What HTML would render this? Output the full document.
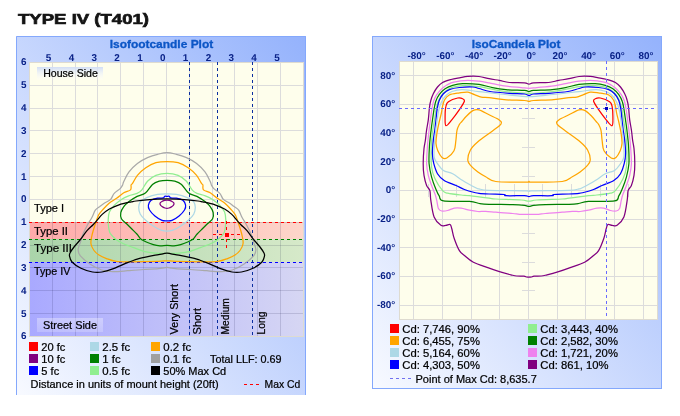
<!DOCTYPE html>
<html><head><meta charset="utf-8"><title>Type IV (T401)</title>
<style>html,body{margin:0;padding:0;background:#fff;width:680px;height:416px;overflow:hidden}svg{display:block;will-change:transform}text{font-family:"Liberation Sans",sans-serif}</style>
</head><body>
<svg width="680" height="416" viewBox="0 0 680 416"><defs>
<linearGradient id="panelG" x1="0" y1="1" x2="1" y2="0">
 <stop offset="0" stop-color="#f8faff"/>
 <stop offset="1" stop-color="#94b2fc"/>
</linearGradient>
<clipPath id="creamclip"><rect x="29" y="62" width="275" height="160"/></clipPath>
<clipPath id="bandclip"><rect x="29" y="222" width="275" height="115"/></clipPath>
<linearGradient id="t2" x1="0" y1="0" x2="1" y2="0">
 <stop offset="0" stop-color="#ffaaaa"/>
 <stop offset="1" stop-color="#fdd6ca"/>
</linearGradient>
<linearGradient id="t3" x1="0" y1="0" x2="1" y2="0">
 <stop offset="0" stop-color="#aad4aa"/>
 <stop offset="1" stop-color="#d6e9c9"/>
</linearGradient>
<linearGradient id="t4" x1="0" y1="0" x2="1" y2="0">
 <stop offset="0" stop-color="#a9a9ff"/>
 <stop offset="1" stop-color="#d6d6f3"/>
</linearGradient>
<linearGradient id="boxG" x1="0" y1="0" x2="0" y2="1">
 <stop offset="0" stop-color="#cfdcf6" stop-opacity="0.95"/>
 <stop offset="1" stop-color="#ffffff" stop-opacity="0.15"/>
</linearGradient>
<linearGradient id="boxG2" x1="0" y1="0" x2="0" y2="1">
 <stop offset="0" stop-color="#ffffff" stop-opacity="0.35"/>
 <stop offset="1" stop-color="#ffffff" stop-opacity="0.2"/>
</linearGradient>
</defs>
<text x="18" y="24" font-family="Liberation Sans" font-weight="bold" font-size="15" fill="#141414" stroke="#141414" stroke-width="0.7" textLength="131" lengthAdjust="spacingAndGlyphs">TYPE IV (T401)</text>
<rect x="16" y="36" width="290" height="359" fill="url(#panelG)"/>
<path d="M16.5,395 V36.5 H305.5 V395" fill="none" stroke="#84a8fc" stroke-width="1"/>
<rect x="372" y="36" width="290" height="353" fill="url(#panelG)"/>
<rect x="372.5" y="36.5" width="289" height="352" fill="none" stroke="#84a8fc" stroke-width="1"/>
<text x="109.7" y="47.7" font-family="Liberation Sans" font-weight="bold" font-size="11" fill="#0c56c6" stroke="#0c56c6" stroke-width="0.3" textLength="103.5" lengthAdjust="spacingAndGlyphs">Isofootcandle Plot</text>
<text x="471.7" y="47.6" font-family="Liberation Sans" font-weight="bold" font-size="11" fill="#0c56c6" stroke="#0c56c6" stroke-width="0.3" textLength="88.7" lengthAdjust="spacingAndGlyphs">IsoCandela Plot</text>
<rect x="29" y="62" width="275" height="275" fill="#fefeec"/>
<rect x="30" y="222" width="273" height="17" fill="url(#t2)"/>
<rect x="30" y="239" width="273" height="23" fill="url(#t3)"/>
<rect x="30" y="262" width="273" height="74" fill="url(#t4)"/>
<path d="M52.5,62V336M75.5,62V336M97.5,62V336M120.5,62V336M143.5,62V336M166.5,62V336M189.5,62V336M212.5,62V336M234.5,62V336M257.5,62V336M280.5,62V336M29,85.5H303M29,108.5H303M29,130.5H303M29,153.5H303M29,176.5H303M29,199.5H303M29,222.5H303M29,245.5H303M29,267.5H303M29,290.5H303M29,313.5H303" stroke="#dcdcdc" stroke-width="1" fill="none" clip-path="url(#creamclip)"/>
<path d="M52.5,62V336M75.5,62V336M97.5,62V336M120.5,62V336M143.5,62V336M166.5,62V336M189.5,62V336M212.5,62V336M234.5,62V336M257.5,62V336M280.5,62V336M29,85.5H303M29,108.5H303M29,130.5H303M29,153.5H303M29,176.5H303M29,199.5H303M29,222.5H303M29,245.5H303M29,267.5H303M29,290.5H303M29,313.5H303" stroke="#000030" stroke-opacity="0.13" stroke-width="1" fill="none" clip-path="url(#bandclip)"/>
<rect x="29.5" y="62.5" width="274" height="274" fill="none" stroke="#dedbd0" stroke-width="1"/>
<rect x="37" y="67" width="66" height="13" fill="url(#boxG)"/>
<text x="43.2" y="76.7" font-family="Liberation Sans" font-size="10.67" fill="#000" stroke="#000" stroke-width="0.22" textLength="54.6" lengthAdjust="spacingAndGlyphs">House Side</text>
<rect x="37" y="318" width="66" height="14" fill="url(#boxG2)"/>
<text x="43" y="328.8" font-family="Liberation Sans" font-size="10.67" fill="#000" stroke="#000" stroke-width="0.22" textLength="54" lengthAdjust="spacingAndGlyphs">Street Side</text>
<text x="34" y="212" font-family="Liberation Sans" font-size="11" fill="#000" stroke="#000" stroke-width="0.22" textLength="30.2" lengthAdjust="spacingAndGlyphs">Type I</text>
<text x="34" y="235" font-family="Liberation Sans" font-size="11" fill="#000" stroke="#000" stroke-width="0.22" textLength="34" lengthAdjust="spacingAndGlyphs">Type II</text>
<text x="34" y="251.8" font-family="Liberation Sans" font-size="11" fill="#000" stroke="#000" stroke-width="0.22" textLength="37.9" lengthAdjust="spacingAndGlyphs">Type III</text>
<text x="34" y="274.6" font-family="Liberation Sans" font-size="11" fill="#000" stroke="#000" stroke-width="0.22" textLength="36.4" lengthAdjust="spacingAndGlyphs">Type IV</text>
<path d="M29,222.5H303" stroke="#ff0000" stroke-width="1" stroke-dasharray="3,3" fill="none"/>
<path d="M29,239.5H303" stroke="#008000" stroke-width="1" stroke-dasharray="3,3" fill="none"/>
<path d="M29,262.5H303" stroke="#0000ff" stroke-width="1" stroke-dasharray="3,3" fill="none"/>
<path d="M189.5,62V336" stroke="#0a2ea0" stroke-width="1" stroke-dasharray="3,3" fill="none"/>
<path d="M217.5,62V336" stroke="#0a2ea0" stroke-width="1" stroke-dasharray="3,3" fill="none"/>
<path d="M252.5,62V336" stroke="#0a2ea0" stroke-width="1" stroke-dasharray="3,3" fill="none"/>
<text transform="translate(178,334.4) rotate(-90)" font-family="Liberation Sans" font-size="11" fill="#000" stroke="#000" stroke-width="0.22" textLength="50.3" lengthAdjust="spacingAndGlyphs">Very Short</text>
<text transform="translate(201,334.4) rotate(-90)" font-family="Liberation Sans" font-size="11" fill="#000" stroke="#000" stroke-width="0.22" textLength="26.5" lengthAdjust="spacingAndGlyphs">Short</text>
<text transform="translate(229.2,334.4) rotate(-90)" font-family="Liberation Sans" font-size="11" fill="#000" stroke="#000" stroke-width="0.22" textLength="36.2" lengthAdjust="spacingAndGlyphs">Medium</text>
<text transform="translate(265.2,334.4) rotate(-90)" font-family="Liberation Sans" font-size="11" fill="#000" stroke="#000" stroke-width="0.22" textLength="22.9" lengthAdjust="spacingAndGlyphs">Long</text>
<g fill="none" stroke-width="1.25" stroke-linejoin="round">
<path d="M167,152.6C163.9,152.6 160.8,153.5 157.6,154.3C154.3,155.1 150.9,156.1 147.5,157.6C144.1,159.1 140.5,161.1 137.4,163.5C134.3,165.9 131.2,169 129,171.9C126.8,174.8 125,179 123.9,181.2C122.8,183.4 123.2,183.8 122.6,185C122,186.2 121.6,187.2 120.2,188.6C118.8,190 115.8,191.6 114.2,193.4C112.6,195.2 112.2,197.8 110.6,199.4C109,201 106.4,201.8 104.6,203C102.8,204.2 101.3,205.4 99.8,206.6C98.2,207.8 96.6,208.4 95.3,210.2C94,212 93.2,215.1 91.9,217.5C90.6,219.9 89,222.1 87.6,224.7C86.2,227.3 84.6,230.3 83.4,233.1C82.2,235.9 81.5,238.8 80.6,241.6C79.7,244.4 78.1,247.3 78.1,249.7C78.1,252.1 78.6,253.8 80.6,256.2C82.6,258.6 86.8,262 90.3,264.3C93.8,266.6 97.8,268.8 101.6,270C105.4,271.2 108.6,271.5 112.9,271.6C117.2,271.7 122.4,271.1 127.5,270.7C132.6,270.3 138.8,269.8 143.7,269.5C148.5,269.2 153.5,269 156.6,268.8C159.7,268.6 160.3,268.4 162,268.2C163.7,268 165.3,267.4 167,267.4C168.7,267.4 170.3,268 172,268.2C173.7,268.4 174.3,268.6 177.4,268.8C180.5,269 185.5,269.2 190.3,269.5C195.2,269.8 201.4,270.3 206.5,270.7C211.6,271.1 216.8,271.7 221.1,271.6C225.4,271.5 228.6,271.2 232.4,270C236.2,268.8 240.2,266.6 243.7,264.3C247.2,262 251.4,258.6 253.4,256.2C255.4,253.8 255.9,252.1 255.9,249.7C255.9,247.3 254.3,244.4 253.4,241.6C252.5,238.8 251.8,235.9 250.6,233.1C249.4,230.3 247.8,227.3 246.4,224.7C245,222.1 243.4,219.9 242.1,217.5C240.8,215.1 240,212 238.7,210.2C237.4,208.4 235.8,207.8 234.2,206.6C232.6,205.4 231.2,204.2 229.4,203C227.6,201.8 225,201 223.4,199.4C221.8,197.8 221.4,195.2 219.8,193.4C218.2,191.6 215.2,190 213.8,188.6C212.4,187.2 212,186.2 211.4,185C210.8,183.8 211.2,183.4 210.1,181.2C209,179 207.2,174.8 205,171.9C202.8,169 199.7,165.9 196.6,163.5C193.5,161.1 189.9,159.1 186.5,157.6C183.1,156.1 179.7,155.1 176.4,154.3C173.2,153.5 170.1,152.6 167,152.6Z" stroke="#a9a9a9"/>
<path d="M167,161.5C163.3,161.5 159.4,161.7 155.9,162.7C152.4,163.7 148.9,165.6 145.8,167.7C142.7,169.8 139.7,172.6 137.4,175.3C135.2,178 133.4,182.1 132.3,183.7C131.2,185.3 131.4,184 131.1,185C130.8,186 131.7,188.5 130.5,189.8C129.3,191.1 126.1,191.4 123.8,192.8C121.5,194.2 119,196.5 116.6,198.2C114.2,199.9 111.6,201.2 109.4,203C107.2,204.8 105.2,207 103.4,209C101.6,211 99.9,212.6 98.6,215C97.3,217.4 96.4,220.8 95.5,223.5C94.6,226.2 93.8,228.6 93.1,231C92.4,233.4 91.8,235.8 91.4,238C91.1,240.2 90.6,241.9 91,244C91.4,246.1 92.7,248.7 94,250.5C95.3,252.3 96.9,253.7 99,255C101.1,256.4 103.6,257.5 106.5,258.6C109.4,259.7 112.2,260.9 116.2,261.4C120.2,261.9 123.7,261.8 130.7,261.8C137.7,261.8 152,261.6 158.1,261.4C164.2,261.2 164,260.8 167,260.8C170,260.8 169.8,261.2 175.9,261.4C182,261.6 196.3,261.8 203.3,261.8C210.3,261.8 213.8,261.9 217.8,261.4C221.8,260.9 224.6,259.7 227.5,258.6C230.4,257.5 232.9,256.4 235,255C237.1,253.7 238.7,252.3 240,250.5C241.3,248.7 242.6,246.1 243,244C243.4,241.9 242.9,240.2 242.6,238C242.2,235.8 241.6,233.4 240.9,231C240.2,228.6 239.4,226.2 238.5,223.5C237.6,220.8 236.7,217.4 235.4,215C234.1,212.6 232.4,211 230.6,209C228.8,207 226.8,204.8 224.6,203C222.4,201.2 219.8,199.9 217.4,198.2C215,196.5 212.5,194.2 210.2,192.8C207.9,191.4 204.7,191.1 203.5,189.8C202.3,188.5 203.2,186 202.9,185C202.6,184 202.8,185.3 201.7,183.7C200.6,182.1 198.8,178 196.6,175.3C194.3,172.6 191.3,169.8 188.2,167.7C185.1,165.6 181.6,163.7 178.1,162.7C174.6,161.7 170.7,161.5 167,161.5Z" stroke="#ffa500"/>
<path d="M167,173.3C163.3,173.3 159.2,174 155.9,175.3C152.7,176.6 149.8,178.8 147.5,181.2C145.2,183.6 143.6,187.8 141.9,189.8C140.2,191.8 139.3,192.4 137.1,193.4C134.9,194.4 131.3,194.8 128.7,195.8C126.1,196.8 123.8,197.8 121.4,199.4C119,201 116.2,203.3 114.2,205.4C112.2,207.5 110.4,209.6 109.4,212C108.4,214.4 108.3,217.2 108.2,219.9C108.1,222.6 108.4,226 108.8,228.3C109.2,230.6 109.2,231.8 110.4,233.7C111.6,235.5 114,237.8 116.1,239.4C118.2,241 120.6,242.3 123,243.5C125.4,244.7 127.2,245.2 130.7,246.5C134.1,247.8 139.6,250.2 143.7,251.3C147.8,252.4 151.3,252.8 155.2,253.1C159.1,253.4 163.1,253.3 167,253.3C170.9,253.3 174.9,253.4 178.8,253.1C182.7,252.8 186.2,252.4 190.3,251.3C194.4,250.2 199.9,247.8 203.3,246.5C206.8,245.2 208.6,244.7 211,243.5C213.4,242.3 215.8,241 217.9,239.4C220,237.8 222.4,235.5 223.6,233.7C224.8,231.8 224.8,230.6 225.2,228.3C225.6,226 225.9,222.6 225.8,219.9C225.7,217.2 225.6,214.4 224.6,212C223.6,209.6 221.8,207.5 219.8,205.4C217.8,203.3 215,201 212.6,199.4C210.2,197.8 207.9,196.8 205.3,195.8C202.7,194.8 199.1,194.4 196.9,193.4C194.7,192.4 193.8,191.8 192.1,189.8C190.4,187.8 188.8,183.6 186.5,181.2C184.2,178.8 181.3,176.6 178.1,175.3C174.8,174 170.7,173.3 167,173.3Z" stroke="#90ee90"/>
<path d="M167,180.3C164.4,180.3 161.7,180.5 159.3,181.2C156.9,181.9 154.8,182.5 152.5,184.5C150.2,186.5 148,191 145.4,193C142.8,195 139.9,194.9 137.1,196.4C134.3,197.9 130.9,200.1 128.7,201.8C126.5,203.5 125.1,204.8 123.8,206.6C122.5,208.4 121.2,210.6 120.8,212.6C120.4,214.6 120.5,216.9 121.4,218.7C122.3,220.5 124.7,221.9 126.3,223.5C127.9,225.1 129.3,226.5 131.1,228.3C132.9,230.1 135.3,232.4 137.1,234.3C138.9,236.2 139.1,238.1 141.8,239.8C144.5,241.5 150.3,243.6 153.3,244.6C156.3,245.6 157.7,245.7 160,245.8C162.3,245.9 164.7,245.4 167,245.4C169.3,245.4 171.7,245.9 174,245.8C176.3,245.7 177.7,245.6 180.7,244.6C183.7,243.6 189.5,241.5 192.2,239.8C194.9,238.1 195.1,236.2 196.9,234.3C198.7,232.4 201.1,230.1 202.9,228.3C204.7,226.5 206.1,225.1 207.7,223.5C209.3,221.9 211.7,220.5 212.6,218.7C213.5,216.9 213.6,214.6 213.2,212.6C212.8,210.6 211.5,208.4 210.2,206.6C208.9,204.8 207.5,203.5 205.3,201.8C203.1,200.1 199.7,197.9 196.9,196.4C194.1,194.9 191.2,195 188.6,193C186,191 183.8,186.5 181.5,184.5C179.2,182.5 177.1,181.9 174.7,181.2C172.3,180.5 169.6,180.3 167,180.3Z" stroke="#008000"/>
<path d="M167,193.8C163.9,193.8 161,193.7 157.6,194.3C154.2,194.9 149.7,196.3 146.8,197.6C143.9,198.9 141.7,200.3 140.3,201.9C139,203.5 138.7,205.2 138.7,207.3C138.7,209.4 139.1,212.1 140.3,214.3C141.5,216.5 143.3,218.2 145.7,220.3C148,222.4 151.8,225.2 154.4,226.8C157,228.5 158.9,229.5 161,230.2C163.1,230.9 165,231.2 167,231.2C169,231.2 170.9,230.9 173,230.2C175.1,229.5 177,228.5 179.6,226.8C182.2,225.2 186,222.4 188.3,220.3C190.7,218.2 192.5,216.5 193.7,214.3C194.9,212.1 195.3,209.4 195.3,207.3C195.3,205.2 195,203.5 193.7,201.9C192.3,200.3 190.1,198.9 187.2,197.6C184.3,196.3 179.8,194.9 176.4,194.3C173,193.7 170.1,193.8 167,193.8Z" stroke="#add8e6"/>
<path d="M167,196.3C166.2,196.3 165.2,196.1 164.6,196.4C164,196.7 164.6,197.6 163.4,197.9C162.2,198.2 159.7,197.8 157.6,198.2C155.5,198.6 152.6,199.2 151.1,200.3C149.6,201.5 148.7,203.5 148.4,205.1C148.1,206.7 148.4,208.2 149.5,210C150.6,211.8 152.8,214.2 154.9,215.9C157,217.6 160,219.5 162,220.3C164,221.1 165.3,220.8 167,220.8C168.7,220.8 170,221.1 172,220.3C174,219.5 177,217.6 179.1,215.9C181.2,214.2 183.4,211.8 184.5,210C185.6,208.2 185.9,206.7 185.6,205.1C185.3,203.5 184.4,201.5 182.9,200.3C181.4,199.2 178.5,198.6 176.4,198.2C174.3,197.8 171.8,198.2 170.6,197.9C169.4,197.6 170,196.7 169.4,196.4C168.8,196.1 167.8,196.3 167,196.3Z" stroke="#0000ff"/>
<path d="M167,200.1C166.2,200.1 165.3,200.1 164.5,200.3C163.7,200.5 163,201 162.3,201.3C161.7,201.7 161,202 160.6,202.4C160.2,202.8 160,203.3 160,203.8C160,204.3 160.3,204.9 160.7,205.4C161.1,205.9 161.9,206.5 162.6,206.9C163.3,207.3 164.3,207.8 165,208C165.7,208.2 166.3,208.3 167,208.3C167.7,208.3 168.3,208.2 169,208C169.7,207.8 170.7,207.3 171.4,206.9C172.1,206.5 172.9,205.9 173.3,205.4C173.7,204.9 174,204.3 174,203.8C174,203.3 173.8,202.8 173.4,202.4C173,202 172.3,201.7 171.7,201.3C171,201 170.3,200.5 169.5,200.3C168.7,200.1 167.8,200.1 167,200.1Z" stroke="#800080"/>
<path d="M167,198.9C163.9,198.9 161,198.9 157.6,199.1C154.2,199.3 150.4,199.6 146.8,199.9C143.2,200.2 138.6,200.7 136,201C133.4,201.3 133.9,201.3 131.1,201.9C128.3,202.5 122.6,203.6 119,204.8C115.4,206 112.2,207.4 109.4,209C106.6,210.6 104.2,212.6 102.2,214.4C100.2,216.2 98.9,218.2 97.4,219.9C95.9,221.6 94.8,222.9 93.1,224.7C91.4,226.5 89.2,228.1 87,230.7C84.8,233.2 82.2,237.3 80,240C77.8,242.7 75.7,244.8 74,247C72.3,249.2 70.8,251.5 70,253C69.2,254.5 69.2,254.5 69.5,256C69.8,257.5 70.1,259.9 72,262C73.9,264.1 77.6,266.6 81,268.3C84.4,270 89,271.4 92.5,272C96,272.6 98.8,272.5 102,272C105.2,271.5 107.8,270.8 112,269.2C116.2,267.6 123.3,264.4 127.5,262.7C131.7,261 134.2,260 137.2,259.1C140.2,258.2 142.6,257.8 145.6,257.1C148.6,256.5 152.3,255.8 155.2,255.2C158.1,254.6 160.9,254.2 162.9,253.8C164.9,253.4 165.6,253 167,253C168.4,253 169.1,253.4 171.1,253.8C173.1,254.2 175.9,254.6 178.8,255.2C181.7,255.8 185.4,256.5 188.4,257.1C191.4,257.8 193.8,258.2 196.8,259.1C199.8,260 202.3,261 206.5,262.7C210.7,264.4 217.8,267.6 222,269.2C226.2,270.8 228.8,271.5 232,272C235.2,272.5 238,272.6 241.5,272C245,271.4 249.6,270 253,268.3C256.4,266.6 260.1,264.1 262,262C263.9,259.9 264.2,257.5 264.5,256C264.8,254.5 264.8,254.5 264,253C263.2,251.5 261.7,249.2 260,247C258.3,244.8 256.2,242.7 254,240C251.8,237.3 249.2,233.2 247,230.7C244.8,228.1 242.6,226.5 240.9,224.7C239.2,222.9 238.1,221.6 236.6,219.9C235.1,218.2 233.8,216.2 231.8,214.4C229.8,212.6 227.4,210.6 224.6,209C221.8,207.4 218.6,206 215,204.8C211.4,203.6 205.7,202.5 202.9,201.9C200.1,201.3 200.6,201.3 198,201C195.4,200.7 190.8,200.2 187.2,199.9C183.6,199.6 179.8,199.3 176.4,199.1C173,198.9 170.1,198.9 167,198.9Z" stroke="#000000"/>
</g>
<path d="M213,234.5H240M226.5,221V248" stroke="#ff0000" stroke-width="1" stroke-dasharray="3,3" fill="none"/>
<rect x="225" y="233" width="4" height="4" fill="#ff0000"/>
<text x="48.5" y="61" text-anchor="middle" font-family="Liberation Sans" font-weight="bold" font-size="9.9" fill="#0a2288" text-rendering="geometricPrecision">5</text>
<text x="71.4" y="61" text-anchor="middle" font-family="Liberation Sans" font-weight="bold" font-size="9.9" fill="#0a2288" text-rendering="geometricPrecision">4</text>
<text x="94.2" y="61" text-anchor="middle" font-family="Liberation Sans" font-weight="bold" font-size="9.9" fill="#0a2288" text-rendering="geometricPrecision">3</text>
<text x="117" y="61" text-anchor="middle" font-family="Liberation Sans" font-weight="bold" font-size="9.9" fill="#0a2288" text-rendering="geometricPrecision">2</text>
<text x="139.9" y="61" text-anchor="middle" font-family="Liberation Sans" font-weight="bold" font-size="9.9" fill="#0a2288" text-rendering="geometricPrecision">1</text>
<text x="162.7" y="61" text-anchor="middle" font-family="Liberation Sans" font-weight="bold" font-size="9.9" fill="#0a2288" text-rendering="geometricPrecision">0</text>
<text x="185.5" y="61" text-anchor="middle" font-family="Liberation Sans" font-weight="bold" font-size="9.9" fill="#0a2288" text-rendering="geometricPrecision">1</text>
<text x="208.4" y="61" text-anchor="middle" font-family="Liberation Sans" font-weight="bold" font-size="9.9" fill="#0a2288" text-rendering="geometricPrecision">2</text>
<text x="231.2" y="61" text-anchor="middle" font-family="Liberation Sans" font-weight="bold" font-size="9.9" fill="#0a2288" text-rendering="geometricPrecision">3</text>
<text x="254" y="61" text-anchor="middle" font-family="Liberation Sans" font-weight="bold" font-size="9.9" fill="#0a2288" text-rendering="geometricPrecision">4</text>
<text x="276.9" y="61" text-anchor="middle" font-family="Liberation Sans" font-weight="bold" font-size="9.9" fill="#0a2288" text-rendering="geometricPrecision">5</text>
<text x="26.6" y="65.3" text-anchor="end" font-family="Liberation Sans" font-weight="bold" font-size="9.9" fill="#0a2288" text-rendering="geometricPrecision">6</text>
<text x="26.6" y="88.1" text-anchor="end" font-family="Liberation Sans" font-weight="bold" font-size="9.9" fill="#0a2288" text-rendering="geometricPrecision">5</text>
<text x="26.6" y="111" text-anchor="end" font-family="Liberation Sans" font-weight="bold" font-size="9.9" fill="#0a2288" text-rendering="geometricPrecision">4</text>
<text x="26.6" y="133.8" text-anchor="end" font-family="Liberation Sans" font-weight="bold" font-size="9.9" fill="#0a2288" text-rendering="geometricPrecision">3</text>
<text x="26.6" y="156.6" text-anchor="end" font-family="Liberation Sans" font-weight="bold" font-size="9.9" fill="#0a2288" text-rendering="geometricPrecision">2</text>
<text x="26.6" y="179.5" text-anchor="end" font-family="Liberation Sans" font-weight="bold" font-size="9.9" fill="#0a2288" text-rendering="geometricPrecision">1</text>
<text x="26.6" y="202.3" text-anchor="end" font-family="Liberation Sans" font-weight="bold" font-size="9.9" fill="#0a2288" text-rendering="geometricPrecision">0</text>
<text x="26.6" y="225.1" text-anchor="end" font-family="Liberation Sans" font-weight="bold" font-size="9.9" fill="#0a2288" text-rendering="geometricPrecision">1</text>
<text x="26.6" y="248" text-anchor="end" font-family="Liberation Sans" font-weight="bold" font-size="9.9" fill="#0a2288" text-rendering="geometricPrecision">2</text>
<text x="26.6" y="270.8" text-anchor="end" font-family="Liberation Sans" font-weight="bold" font-size="9.9" fill="#0a2288" text-rendering="geometricPrecision">3</text>
<text x="26.6" y="293.6" text-anchor="end" font-family="Liberation Sans" font-weight="bold" font-size="9.9" fill="#0a2288" text-rendering="geometricPrecision">4</text>
<text x="26.6" y="316.5" text-anchor="end" font-family="Liberation Sans" font-weight="bold" font-size="9.9" fill="#0a2288" text-rendering="geometricPrecision">5</text>
<text x="26.6" y="339.3" text-anchor="end" font-family="Liberation Sans" font-weight="bold" font-size="9.9" fill="#0a2288" text-rendering="geometricPrecision">6</text>
<rect x="29" y="342" width="9" height="9" fill="#ff0000"/>
<text x="41.3" y="350.7" font-family="Liberation Sans" font-size="10.67" fill="#000" stroke="#000" stroke-width="0.22" textLength="24.1" lengthAdjust="spacingAndGlyphs">20 fc</text>
<rect x="29" y="354" width="9" height="9" fill="#800080"/>
<text x="41.3" y="362.7" font-family="Liberation Sans" font-size="10.67" fill="#000" stroke="#000" stroke-width="0.22" textLength="24.1" lengthAdjust="spacingAndGlyphs">10 fc</text>
<rect x="29" y="366" width="9" height="9" fill="#0000ff"/>
<text x="41.3" y="374.7" font-family="Liberation Sans" font-size="10.67" fill="#000" stroke="#000" stroke-width="0.22" textLength="17.9" lengthAdjust="spacingAndGlyphs">5 fc</text>
<rect x="90" y="342" width="9" height="9" fill="#add8e6"/>
<text x="102.3" y="350.7" font-family="Liberation Sans" font-size="10.67" fill="#000" stroke="#000" stroke-width="0.22" textLength="27.9" lengthAdjust="spacingAndGlyphs">2.5 fc</text>
<rect x="90" y="354" width="9" height="9" fill="#008000"/>
<text x="102.3" y="362.7" font-family="Liberation Sans" font-size="10.67" fill="#000" stroke="#000" stroke-width="0.22" textLength="18.4" lengthAdjust="spacingAndGlyphs">1 fc</text>
<rect x="90" y="366" width="9" height="9" fill="#90ee90"/>
<text x="102.3" y="374.7" font-family="Liberation Sans" font-size="10.67" fill="#000" stroke="#000" stroke-width="0.22" textLength="27.9" lengthAdjust="spacingAndGlyphs">0.5 fc</text>
<rect x="151" y="342" width="9" height="9" fill="#ffa500"/>
<text x="163.3" y="350.7" font-family="Liberation Sans" font-size="10.67" fill="#000" stroke="#000" stroke-width="0.22" textLength="27.9" lengthAdjust="spacingAndGlyphs">0.2 fc</text>
<rect x="151" y="354" width="9" height="9" fill="#a0a0a0"/>
<text x="163.3" y="362.7" font-family="Liberation Sans" font-size="10.67" fill="#000" stroke="#000" stroke-width="0.22" textLength="27.9" lengthAdjust="spacingAndGlyphs">0.1 fc</text>
<rect x="151" y="366" width="9" height="9" fill="#000000"/>
<text x="163.3" y="374.7" font-family="Liberation Sans" font-size="10.67" fill="#000" stroke="#000" stroke-width="0.22" textLength="62.9" lengthAdjust="spacingAndGlyphs">50% Max Cd</text>
<text x="210.1" y="363" font-family="Liberation Sans" font-size="10.67" fill="#000" stroke="#000" stroke-width="0.22" textLength="71.4" lengthAdjust="spacingAndGlyphs">Total LLF: 0.69</text>
<text x="30.6" y="387.6" font-family="Liberation Sans" font-size="10.67" fill="#000" stroke="#000" stroke-width="0.22" textLength="188" lengthAdjust="spacingAndGlyphs">Distance in units of mount height (20ft)</text>
<path d="M244,384.5H259" stroke="#ff0000" stroke-width="1" stroke-dasharray="3,3" fill="none"/>
<text x="264.6" y="387.6" font-family="Liberation Sans" font-size="10.67" fill="#000" stroke="#000" stroke-width="0.22" textLength="35.7" lengthAdjust="spacingAndGlyphs">Max Cd</text>
<rect x="399" y="61" width="259" height="259" fill="#fefeec"/>
<path d="M413.5,61V319M399,305.5H657M442.5,61V319M399,276.5H657M471.5,61V319M399,247.5H657M499.5,61V319M399,219.5H657M528.5,61V319M399,190.5H657M557.5,61V319M399,161.5H657M585.5,61V319M399,133.5H657M614.5,61V319M399,104.5H657M643.5,61V319M399,75.5H657" stroke="#dcdcdc" stroke-width="1" fill="none"/>
<path d="M428.5,184V197M522,290.5H535M456.5,184V197M522,262.5H535M485.5,184V197M522,233.5H535M514.5,184V197M522,204.5H535M542.5,184V197M522,176.5H535M571.5,184V197M522,147.5H535M600.5,184V197M522,118.5H535M628.5,184V197M522,90.5H535" stroke="#dcdcdc" stroke-width="1" fill="none"/>
<rect x="399.5" y="61.5" width="258" height="258" fill="none" stroke="#dedbd0" stroke-width="1"/>
<g fill="none" stroke-width="1.25" stroke-linejoin="round">
<path d="M529,84.2C527.5,84.2 527.7,83.2 524.4,82.9C521.1,82.6 513.5,82.9 509.3,82.5C505.1,82.1 502.6,81 499.2,80.4C495.8,79.8 492.5,79.4 489.1,78.7C485.7,78 482.6,76.9 479,76.5C475.4,76.1 471.1,76.2 467.8,76.4C464.5,76.6 462.2,77.3 459.4,77.8C456.6,78.3 453.8,78.7 451,79.5C448.2,80.3 444.9,81.2 442.6,82.5C440.4,83.8 439.1,85.1 437.5,87C435.9,88.9 434.4,91.5 433.3,93.8C432.2,96 431.5,98.1 430.8,100.5C430.1,102.9 429.8,104.8 429.4,108C429,111.2 428.8,116.1 428.3,119.8C427.8,123.5 427.1,126.6 426.6,130C426.1,133.4 425.8,137 425.4,140.1C425,143.2 424.4,144.6 424,148.5C423.6,152.4 423.2,159.2 423.2,163.7C423.2,168.2 423.4,171.8 424,175.4C424.6,179 425.6,183 426.6,185.5C427.6,188 429.2,188.2 429.9,190.6C430.6,193 430.1,195.7 430.8,200.1C431.5,204.5 432.4,212.7 434.1,216.9C435.8,221.1 438.9,223.9 440.9,225.3C442.9,226.7 444.4,225.4 445.9,225.3C447.4,225.2 449.1,223.9 450.1,224.5C451.1,225.1 451.1,226.3 451.8,228.7C452.5,231.1 453,235.2 454.3,238.8C455.6,242.5 457.6,247.8 459.4,250.6C461.1,253.4 462.5,253.9 464.8,255.8C467.1,257.8 469.6,260.3 473.4,262.3C477.2,264.3 483.5,266.1 487.8,267.6C492.1,269.2 495.5,270.4 499.4,271.6C503.2,272.8 508,274.1 510.9,274.8C513.8,275.5 514.5,275.8 516.7,276C518.9,276.2 522.2,276 523.9,276.2C525.6,276.4 525.9,276.9 526.7,277C527.6,277.1 528.2,277 529,277C529.8,277 530.4,277.1 531.3,277C532.1,276.9 532.4,276.4 534.1,276.2C535.8,276 539.1,276.2 541.3,276C543.5,275.8 544.2,275.5 547.1,274.8C550,274.1 554.8,272.8 558.6,271.6C562.5,270.4 565.9,269.2 570.2,267.6C574.5,266.1 580.8,264.3 584.6,262.3C588.4,260.3 590.9,257.8 593.2,255.8C595.5,253.9 596.9,253.4 598.6,250.6C600.4,247.8 602.4,242.5 603.7,238.8C605,235.2 605.5,231.1 606.2,228.7C606.9,226.3 606.9,225.1 607.9,224.5C608.9,223.9 610.6,225.2 612.1,225.3C613.6,225.4 615.1,226.7 617.1,225.3C619.1,223.9 622.2,221.1 623.9,216.9C625.6,212.7 626.5,204.5 627.2,200.1C627.9,195.7 627.4,193 628.1,190.6C628.8,188.2 630.4,188 631.4,185.5C632.4,183 633.4,179 634,175.4C634.6,171.8 634.8,168.2 634.8,163.7C634.8,159.2 634.4,152.4 634,148.5C633.6,144.6 633,143.2 632.6,140.1C632.2,137 631.9,133.4 631.4,130C630.9,126.6 630.2,123.5 629.7,119.8C629.2,116.1 629,111.2 628.6,108C628.2,104.8 627.9,102.9 627.2,100.5C626.6,98.1 625.8,96 624.7,93.8C623.6,91.5 622,88.9 620.5,87C619,85.1 617.6,83.8 615.4,82.5C613.1,81.2 609.8,80.3 607,79.5C604.2,78.7 601.4,78.3 598.6,77.8C595.8,77.3 593.5,76.6 590.2,76.4C586.9,76.2 582.5,76.1 579,76.5C575.5,76.9 572.3,78 568.9,78.7C565.5,79.4 562.2,79.8 558.8,80.4C555.4,81 552.9,82.1 548.7,82.5C544.5,82.9 536.9,82.6 533.6,82.9C530.3,83.2 530.5,84.2 529,84.2Z" stroke="#800080"/>
<path d="M529,88.3C526.4,88.3 525.2,88 521.1,87.6C517,87.2 509.5,86.7 504.2,85.9C498.9,85.1 493.3,83.7 489.1,82.9C484.9,82.1 482.6,81.6 479,81.2C475.4,80.8 471.1,80.3 467.8,80.3C464.5,80.3 462.2,80.7 459.4,81.1C456.6,81.5 453.8,81.7 451,82.8C448.2,83.9 445,85.9 442.6,87.9C440.2,89.9 438.2,92.5 436.7,94.6C435.2,96.7 434.6,98.3 433.8,100.5C433,102.7 432.7,104.8 432.1,108C431.5,111.2 430.9,116.1 430.4,119.8C429.9,123.5 429.6,125.5 429.1,130C428.6,134.5 427.8,141.2 427.4,146.8C427,152.4 426.5,158.9 426.6,163.7C426.8,168.5 427.5,171.8 428.3,175.4C429.1,179 430.5,182.4 431.6,185.5C432.7,188.6 434.1,191.6 435,194C435.9,196.4 436.1,197.7 436.7,200.1C437.3,202.5 437.6,206.7 438.4,208.5C439.2,210.3 440.2,210.7 441.7,211C443.2,211.3 445.5,211 447.6,210.5C449.7,210 452.1,208.6 454.3,208.2C456.6,207.8 458.6,207.9 461.1,208.2C463.6,208.5 466.7,209.6 469.5,210.2C472.3,210.8 475.2,211.3 477.9,211.5C480.6,211.7 482.7,211.2 485.7,211.3C488.7,211.4 491.3,211.8 495.8,212.2C500.3,212.6 508.8,213.2 512.7,213.5C516.6,213.8 516.7,214.2 519.4,214.3C522.1,214.4 525.8,214.3 529,214.3C532.2,214.3 535.9,214.4 538.6,214.3C541.3,214.2 541.4,213.8 545.3,213.5C549.2,213.2 557.7,212.6 562.2,212.2C566.7,211.8 569.3,211.4 572.3,211.3C575.3,211.2 577.4,211.7 580.1,211.5C582.8,211.3 585.7,210.8 588.5,210.2C591.3,209.6 594.4,208.5 596.9,208.2C599.4,207.9 601.5,207.8 603.7,208.2C606,208.6 608.3,210 610.4,210.5C612.5,211 614.8,211.3 616.3,211C617.8,210.7 618.8,210.3 619.6,208.5C620.4,206.7 620.7,202.5 621.3,200.1C621.9,197.7 622.1,196.4 623,194C623.9,191.6 625.3,188.6 626.4,185.5C627.5,182.4 628.9,179 629.7,175.4C630.5,171.8 631.2,168.5 631.4,163.7C631.5,158.9 631,152.4 630.6,146.8C630.2,141.2 629.4,134.5 628.9,130C628.4,125.5 628.1,123.5 627.6,119.8C627.1,116.1 626.5,111.2 625.9,108C625.3,104.8 625,102.7 624.2,100.5C623.4,98.3 622.8,96.7 621.3,94.6C619.8,92.5 617.8,89.9 615.4,87.9C613,85.9 609.8,83.9 607,82.8C604.2,81.7 601.4,81.5 598.6,81.1C595.8,80.7 593.5,80.3 590.2,80.3C586.9,80.3 582.5,80.8 579,81.2C575.5,81.6 573.1,82.1 568.9,82.9C564.7,83.7 559.1,85.1 553.8,85.9C548.5,86.7 541,87.2 536.9,87.6C532.8,88 531.6,88.3 529,88.3Z" stroke="#ee82ee"/>
<path d="M529,91.6C527.5,91.6 528.2,90.7 524.4,90.4C520.5,90.1 511.2,90.1 505.9,89.6C500.6,89.1 497,88.5 492.5,87.6C488,86.7 484,85.1 479,84.4C474,83.8 467.1,83.5 462.7,83.7C458.3,83.9 455.6,84.6 452.7,85.4C449.8,86.2 447.4,87.2 445.1,88.7C442.9,90.2 440.8,92.5 439.2,94.6C437.6,96.7 436.6,98.9 435.8,101.3C435,103.7 434.7,105.8 434.1,108.9C433.6,112 433,116.3 432.5,119.8C432,123.3 431.6,125.5 431.1,130C430.6,134.5 429.7,141.2 429.4,146.8C429.1,152.4 428.7,158.6 429.1,163.7C429.5,168.8 430.5,172.9 431.6,177.1C432.7,181.3 434.5,185.8 435.8,188.9C437.1,192 437.9,193.9 439.2,195.9C440.5,197.9 438.3,200 443.4,200.9C448.4,201.8 463.5,201 469.5,201.4C475.5,201.8 476.4,203 479.6,203.5C482.9,204 483.5,204.1 489,204.3C494.5,204.5 506.8,204.4 512.7,204.6C518.6,204.8 521.7,205.1 524.4,205.4C527.1,205.7 527.5,206.4 529,206.4C530.5,206.4 530.9,205.7 533.6,205.4C536.3,205.1 539.4,204.8 545.3,204.6C551.2,204.4 563.5,204.5 569,204.3C574.5,204.1 575.1,204 578.4,203.5C581.6,203 582.5,201.8 588.5,201.4C594.5,201 609.6,201.8 614.6,200.9C619.6,200 617.5,197.9 618.8,195.9C620.1,193.9 620.9,192 622.2,188.9C623.5,185.8 625.3,181.3 626.4,177.1C627.5,172.9 628.5,168.8 628.9,163.7C629.3,158.6 628.9,152.4 628.6,146.8C628.3,141.2 627.4,134.5 626.9,130C626.4,125.5 626,123.3 625.5,119.8C625,116.3 624.4,112 623.9,108.9C623.4,105.8 623.1,103.7 622.2,101.3C621.4,98.9 620.3,96.7 618.8,94.6C617.2,92.5 615.1,90.2 612.9,88.7C610.6,87.2 608.2,86.2 605.3,85.4C602.4,84.6 599.7,83.9 595.3,83.7C590.9,83.5 584,83.8 579,84.4C574,85.1 570,86.7 565.5,87.6C561,88.5 557.4,89.1 552.1,89.6C546.8,90.1 537.5,90.1 533.6,90.4C529.8,90.7 530.5,91.6 529,91.6Z" stroke="#008000"/>
<path d="M529,93.3C521,93.3 513.3,92.6 505,91.5C496.7,90.4 486.1,87.6 479,86.6C471.9,85.6 467,85.5 462.7,85.6C458.4,85.7 455.7,86.4 453,87.2C450.3,88 448.5,89 446.5,90.5C444.5,92 442.4,94 441,96C439.6,98 438.6,100.2 437.8,102.5C437,104.8 436.6,107.1 436,110C435.4,112.9 435,116.7 434.5,120C434,123.3 433.4,125.5 432.8,130C432.2,134.5 431.4,140.8 431.2,147C431,153.2 431,161.7 431.6,167C432.2,172.3 433.2,174.9 435,178.8C436.8,182.7 440.5,188.2 442.6,190.6C444.7,193 444.5,192.4 447.6,193.1C450.7,193.8 457.5,194.6 461.1,195C464.8,195.4 464.9,195.1 469.5,195.6C474.1,196.1 484.6,197.5 489,198.1C493.4,198.7 490.4,198.7 495.8,199C501.2,199.3 515.6,199.6 521.1,200C526.6,200.4 526.4,201.2 529,201.2C531.6,201.2 531.4,200.4 536.9,200C542.4,199.6 556.9,199.3 562.2,199C567.6,198.7 564.6,198.7 569,198.1C573.4,197.5 583.9,196.1 588.5,195.6C593.1,195.1 593.2,195.4 596.9,195C600.5,194.6 607.3,193.8 610.4,193.1C613.5,192.4 613.3,193 615.4,190.6C617.5,188.2 621.2,182.7 623,178.8C624.8,174.9 625.8,172.3 626.4,167C627,161.7 627,153.2 626.8,147C626.6,140.8 625.8,134.5 625.2,130C624.7,125.5 624,123.3 623.5,120C623,116.7 622.5,112.9 622,110C621.5,107.1 621,104.8 620.2,102.5C619.4,100.2 618.5,98 617,96C615.5,94 613.5,92 611.5,90.5C609.5,89 607.7,88 605,87.2C602.3,86.4 599.6,85.7 595.3,85.6C591,85.5 586,85.6 579,86.6C572,87.6 561.3,90.4 553,91.5C544.7,92.6 537,93.3 529,93.3Z" stroke="#90ee90"/>
<path d="M529,95.5C527.5,95.5 527.7,94.4 524.4,94C521.1,93.6 515,93.7 509.3,93.3C503.6,92.9 495.1,92.3 490,91.5C484.9,90.7 481.9,89.2 479,88.5C476.1,87.8 476.1,87.2 472.8,87C469.5,86.8 463.3,87.1 459.4,87.5C455.5,87.9 452,88.5 449.3,89.6C446.6,90.6 445.1,92 443.4,93.8C441.7,95.6 440.2,98 439.2,100.5C438.2,103 437.8,105.4 437.2,108.9C436.6,112.4 436.2,118 435.8,121.5C435.4,125 435.2,126.9 434.8,130C434.4,133.1 433.7,136.2 433.3,140.1C432.9,144 432.3,149.7 432.4,153.6C432.5,157.5 432.9,160.3 433.8,163.7C434.7,167 435.8,170.9 437.5,173.7C439.2,176.5 441.1,178.5 444.2,180.5C447.3,182.5 452.6,184 456,185.5C459.4,187 461.3,188.3 464.4,189.5C467.5,190.7 472.1,191.9 474.5,192.5C476.9,193.1 476.6,193.1 479,193.3C481.4,193.6 484.8,193.8 489,194C493.2,194.2 501.4,194.2 504.2,194.5C507,194.8 502.6,195.5 506,195.7C509.4,195.9 520.6,195.6 524.4,195.7C528.2,195.8 527.5,196.5 529,196.5C530.5,196.5 529.8,195.8 533.6,195.7C537.4,195.6 548.6,195.9 552,195.7C555.4,195.5 551,194.8 553.8,194.5C556.6,194.2 564.8,194.2 569,194C573.2,193.8 576.6,193.6 579,193.3C581.4,193.1 581.1,193.1 583.5,192.5C585.9,191.9 590.5,190.7 593.6,189.5C596.7,188.3 598.6,187 602,185.5C605.4,184 610.7,182.5 613.8,180.5C616.9,178.5 618.8,176.5 620.5,173.7C622.2,170.9 623.4,167 624.2,163.7C625.1,160.3 625.5,157.5 625.6,153.6C625.7,149.7 625.1,144 624.7,140.1C624.3,136.2 623.6,133.1 623.2,130C622.8,126.9 622.6,125 622.2,121.5C621.8,118 621.4,112.4 620.8,108.9C620.2,105.4 619.8,103 618.8,100.5C617.8,98 616.3,95.6 614.6,93.8C612.9,92 611.4,90.6 608.7,89.6C606,88.5 602.5,87.9 598.6,87.5C594.7,87.1 588.5,86.8 585.2,87C581.9,87.2 581.9,87.8 579,88.5C576.1,89.2 573,90.7 568,91.5C563,92.3 554.4,92.9 548.7,93.3C543,93.7 536.9,93.6 533.6,94C530.3,94.4 530.5,95.5 529,95.5Z" stroke="#0000ff"/>
<path d="M529,96.7C521,96.7 513.3,95.3 505,94.5C496.7,93.7 486.2,92.4 479,91.6C471.8,90.8 466.5,89.5 462,89.5C457.5,89.5 454.7,90.5 452,91.5C449.3,92.5 447.8,93.8 446,95.5C444.2,97.2 442.7,99.6 441.5,102C440.3,104.4 439.6,106.8 438.8,110C438.1,113.2 437.5,117.7 437,121C436.5,124.3 436.2,126.3 435.8,130C435.4,133.7 434.8,138.5 434.5,143C434.2,147.5 433.6,153.5 434.1,156.9C434.6,160.3 435.9,161.4 437.5,163.7C439.1,165.9 440.9,168.7 443.4,170.4C445.9,172.1 449.5,172 452.7,173.7C455.9,175.4 458.8,178.1 462.7,180.5C466.6,182.9 473.5,186.6 476.2,188C478.9,189.4 476.9,188.5 479,188.9C481.1,189.3 481.2,190 489.1,190.3C497,190.6 519.5,190.6 526.1,190.8C532.8,191 528,191.5 529,191.5C530,191.5 525.2,191 531.9,190.8C538.5,190.6 561,190.6 568.9,190.3C576.8,190 576.9,189.3 579,188.9C581.1,188.5 579.1,189.4 581.8,188C584.5,186.6 591.4,182.9 595.3,180.5C599.2,178.1 602.1,175.4 605.3,173.7C608.5,172 612.1,172.1 614.6,170.4C617.1,168.7 619,165.9 620.5,163.7C622,161.4 623.4,160.3 623.9,156.9C624.4,153.5 623.8,147.5 623.5,143C623.2,138.5 622.6,133.7 622.2,130C621.8,126.3 621.5,124.3 621,121C620.5,117.7 620,113.2 619.2,110C618.5,106.8 617.7,104.4 616.5,102C615.3,99.6 613.8,97.2 612,95.5C610.2,93.8 608.7,92.5 606,91.5C603.3,90.5 600.5,89.5 596,89.5C591.5,89.5 586.2,90.8 579,91.6C571.8,92.4 561.3,93.7 553,94.5C544.7,95.3 537,96.7 529,96.7Z" stroke="#add8e6"/>
<path d="M529,101.4C527.5,101.4 528.5,100.8 524.4,100.5C520.3,100.2 510.1,100.2 504.2,99.7C498.3,99.2 492.9,98.1 489.1,97.7C485.3,97.3 483.7,97.6 481.3,97.1C478.9,96.6 476.8,95.4 474.5,94.6C472.2,93.8 470.3,92.4 467.8,92.1C465.3,91.8 462.5,92.4 459.4,92.9C456.3,93.4 451.8,93.8 449.3,95C446.8,96.2 445.6,98.1 444.5,100C443.4,101.9 443,104.3 442.5,106.5C442,108.7 441.9,110.4 441.4,113C440.8,115.6 440,118.5 439.2,122C438.4,125.5 437.3,130.4 436.8,134C436.3,137.6 435.8,140.8 436,143.6C436.2,146.4 436.8,148.5 437.8,150.8C438.8,153.1 440.5,156.2 442,157.4C443.5,158.6 444.8,159.1 446.8,158C448.8,156.9 452.5,153.6 454,150.8C455.5,148 455.3,144.6 455.8,141.2C456.3,137.8 456.4,133.2 457,130.4C457.6,127.6 458.6,125.9 459.4,124.4C460.2,122.9 460.8,122.8 461.9,121.5C463,120.2 464.3,118.3 466.1,116.5C467.9,114.7 470.7,111.7 472.8,110.6C474.9,109.5 476.3,109.1 479,109.8C481.7,110.5 485.7,113.1 489.1,114.8C492.5,116.5 497.2,118.4 499.2,119.9C501.2,121.5 502,122.2 500.9,124.1C499.8,125.9 496.3,128.1 492.5,131C488.7,133.9 481.6,138.6 477.9,141.8C474.2,145 472,147.1 470.3,150.2C468.6,153.3 467.7,157.6 467.8,160.3C467.9,163 469.5,164.2 471.2,166.2C472.9,168.2 475.5,170.3 477.9,172.1C480.3,173.9 482.7,175.2 485.7,176.8C488.7,178.4 489.1,180.6 495.8,181.5C502.5,182.4 520.6,182.2 526.1,182.2C531.6,182.2 528,181.4 529,181.4C530,181.4 526.4,182.2 531.9,182.2C537.4,182.2 555.5,182.4 562.2,181.5C568.9,180.6 569.3,178.4 572.3,176.8C575.3,175.2 577.7,173.9 580.1,172.1C582.5,170.3 585.1,168.2 586.8,166.2C588.5,164.2 590.1,163 590.2,160.3C590.4,157.6 589.4,153.3 587.7,150.2C586,147.1 583.8,145 580.1,141.8C576.4,138.6 569.3,133.9 565.5,131C561.7,128.1 558.2,125.9 557.1,124.1C556,122.2 556.8,121.5 558.8,119.9C560.8,118.4 565.5,116.5 568.9,114.8C572.3,113.1 576.3,110.5 579,109.8C581.7,109.1 583.1,109.5 585.2,110.6C587.4,111.7 590.1,114.7 591.9,116.5C593.7,118.3 595,120.2 596.1,121.5C597.2,122.8 597.8,122.9 598.6,124.4C599.4,125.9 600.4,127.6 601,130.4C601.6,133.2 601.7,137.8 602.2,141.2C602.7,144.6 602.5,148 604,150.8C605.5,153.6 609.2,156.9 611.2,158C613.2,159.1 614.5,158.6 616,157.4C617.5,156.2 619.2,153.1 620.2,150.8C621.2,148.5 621.8,146.4 622,143.6C622.2,140.8 621.7,137.6 621.2,134C620.7,130.4 619.6,125.5 618.8,122C618,118.5 617.1,115.6 616.6,113C616.1,110.4 616,108.7 615.5,106.5C615,104.3 614.6,101.9 613.5,100C612.4,98.1 611.2,96.2 608.7,95C606.2,93.8 601.7,93.4 598.6,92.9C595.5,92.4 592.7,91.8 590.2,92.1C587.7,92.4 585.8,93.8 583.5,94.6C581.2,95.4 579.1,96.6 576.7,97.1C574.3,97.6 572.7,97.3 568.9,97.7C565.1,98.1 559.7,99.2 553.8,99.7C547.9,100.2 537.7,100.2 533.6,100.5C529.5,100.8 530.5,101.4 529,101.4Z" stroke="#ffa500"/>
<path d="M445.9,125.7C444.8,125.2 445.1,119.7 445.1,116.5C445.1,113.3 445.3,108.9 445.9,106.4C446.4,103.9 446.4,103.1 448.4,101.7C450.4,100.3 455.3,98.5 457.7,98C460.1,97.5 461.6,98.2 462.7,98.8C463.8,99.3 464.9,99.5 464.4,101.3C463.8,103.1 461.5,106.6 459.4,109.7C457.3,112.8 454.1,117.1 451.8,119.8C449.6,122.5 447,126.2 445.9,125.7Z" stroke="#ff0000"/>
<path d="M606.2,119.8C604,117.1 600.7,112.8 598.6,109.7C596.5,106.6 594.2,103.1 593.6,101.3C593,99.5 594.2,99.3 595.3,98.8C596.4,98.2 597.9,97.5 600.3,98C602.7,98.5 607.6,100.3 609.6,101.7C611.6,103.1 611.6,103.9 612.1,106.4C612.6,108.9 612.9,113.3 612.9,116.5C612.9,119.7 613.2,125.2 612.1,125.7C611,126.2 608.5,122.5 606.2,119.8Z" stroke="#ff0000"/>
</g>
<path d="M399,108.5H657M606.5,61V319" stroke="#6a6aff" stroke-width="1" stroke-dasharray="3,3" fill="none"/>
<rect x="605" y="107" width="3" height="3" fill="#0000c0"/>
<text x="416.6" y="58.6" text-anchor="middle" font-family="Liberation Sans" font-weight="bold" font-size="9.9" fill="#0a2288" text-rendering="geometricPrecision">-80&#176;</text>
<text x="395.3" y="308" text-anchor="end" font-family="Liberation Sans" font-weight="bold" font-size="9.9" fill="#0a2288" text-rendering="geometricPrecision">-80&#176;</text>
<text x="445.3" y="58.6" text-anchor="middle" font-family="Liberation Sans" font-weight="bold" font-size="9.9" fill="#0a2288" text-rendering="geometricPrecision">-60&#176;</text>
<text x="395.3" y="279.3" text-anchor="end" font-family="Liberation Sans" font-weight="bold" font-size="9.9" fill="#0a2288" text-rendering="geometricPrecision">-60&#176;</text>
<text x="474" y="58.6" text-anchor="middle" font-family="Liberation Sans" font-weight="bold" font-size="9.9" fill="#0a2288" text-rendering="geometricPrecision">-40&#176;</text>
<text x="395.3" y="250.6" text-anchor="end" font-family="Liberation Sans" font-weight="bold" font-size="9.9" fill="#0a2288" text-rendering="geometricPrecision">-40&#176;</text>
<text x="502.6" y="58.6" text-anchor="middle" font-family="Liberation Sans" font-weight="bold" font-size="9.9" fill="#0a2288" text-rendering="geometricPrecision">-20&#176;</text>
<text x="395.3" y="222" text-anchor="end" font-family="Liberation Sans" font-weight="bold" font-size="9.9" fill="#0a2288" text-rendering="geometricPrecision">-20&#176;</text>
<text x="531.3" y="58.6" text-anchor="middle" font-family="Liberation Sans" font-weight="bold" font-size="9.9" fill="#0a2288" text-rendering="geometricPrecision">0&#176;</text>
<text x="395.3" y="193.3" text-anchor="end" font-family="Liberation Sans" font-weight="bold" font-size="9.9" fill="#0a2288" text-rendering="geometricPrecision">0&#176;</text>
<text x="560" y="58.6" text-anchor="middle" font-family="Liberation Sans" font-weight="bold" font-size="9.9" fill="#0a2288" text-rendering="geometricPrecision">20&#176;</text>
<text x="395.3" y="164.6" text-anchor="end" font-family="Liberation Sans" font-weight="bold" font-size="9.9" fill="#0a2288" text-rendering="geometricPrecision">20&#176;</text>
<text x="588.6" y="58.6" text-anchor="middle" font-family="Liberation Sans" font-weight="bold" font-size="9.9" fill="#0a2288" text-rendering="geometricPrecision">40&#176;</text>
<text x="395.3" y="136" text-anchor="end" font-family="Liberation Sans" font-weight="bold" font-size="9.9" fill="#0a2288" text-rendering="geometricPrecision">40&#176;</text>
<text x="617.3" y="58.6" text-anchor="middle" font-family="Liberation Sans" font-weight="bold" font-size="9.9" fill="#0a2288" text-rendering="geometricPrecision">60&#176;</text>
<text x="395.3" y="107.3" text-anchor="end" font-family="Liberation Sans" font-weight="bold" font-size="9.9" fill="#0a2288" text-rendering="geometricPrecision">60&#176;</text>
<text x="646" y="58.6" text-anchor="middle" font-family="Liberation Sans" font-weight="bold" font-size="9.9" fill="#0a2288" text-rendering="geometricPrecision">80&#176;</text>
<text x="395.3" y="78.6" text-anchor="end" font-family="Liberation Sans" font-weight="bold" font-size="9.9" fill="#0a2288" text-rendering="geometricPrecision">80&#176;</text>
<rect x="390" y="324" width="9" height="9" fill="#ff0000"/>
<text x="402.3" y="332.7" font-family="Liberation Sans" font-size="10.67" fill="#000" stroke="#000" stroke-width="0.22" textLength="77.6" lengthAdjust="spacingAndGlyphs">Cd: 7,746, 90%</text>
<rect x="390" y="336" width="9" height="9" fill="#ffa500"/>
<text x="402.3" y="344.7" font-family="Liberation Sans" font-size="10.67" fill="#000" stroke="#000" stroke-width="0.22" textLength="77.6" lengthAdjust="spacingAndGlyphs">Cd: 6,455, 75%</text>
<rect x="390" y="348" width="9" height="9" fill="#add8e6"/>
<text x="402.3" y="356.7" font-family="Liberation Sans" font-size="10.67" fill="#000" stroke="#000" stroke-width="0.22" textLength="77.6" lengthAdjust="spacingAndGlyphs">Cd: 5,164, 60%</text>
<rect x="390" y="360" width="9" height="9" fill="#0000ff"/>
<text x="402.3" y="368.7" font-family="Liberation Sans" font-size="10.67" fill="#000" stroke="#000" stroke-width="0.22" textLength="77.6" lengthAdjust="spacingAndGlyphs">Cd: 4,303, 50%</text>
<rect x="528" y="324" width="9" height="9" fill="#90ee90"/>
<text x="540.3" y="332.7" font-family="Liberation Sans" font-size="10.67" fill="#000" stroke="#000" stroke-width="0.22" textLength="77.6" lengthAdjust="spacingAndGlyphs">Cd: 3,443, 40%</text>
<rect x="528" y="336" width="9" height="9" fill="#008000"/>
<text x="540.3" y="344.7" font-family="Liberation Sans" font-size="10.67" fill="#000" stroke="#000" stroke-width="0.22" textLength="77.6" lengthAdjust="spacingAndGlyphs">Cd: 2,582, 30%</text>
<rect x="528" y="348" width="9" height="9" fill="#ee82ee"/>
<text x="540.3" y="356.7" font-family="Liberation Sans" font-size="10.67" fill="#000" stroke="#000" stroke-width="0.22" textLength="77.6" lengthAdjust="spacingAndGlyphs">Cd: 1,721, 20%</text>
<rect x="528" y="360" width="9" height="9" fill="#800080"/>
<text x="540.3" y="368.7" font-family="Liberation Sans" font-size="10.67" fill="#000" stroke="#000" stroke-width="0.22" textLength="68.2" lengthAdjust="spacingAndGlyphs">Cd: 861, 10%</text>
<path d="M390,378.5H411" stroke="#7070f0" stroke-width="1" stroke-dasharray="3,3" fill="none"/>
<text x="415.5" y="382.5" font-family="Liberation Sans" font-size="10.67" fill="#000" stroke="#000" stroke-width="0.22" textLength="121.3" lengthAdjust="spacingAndGlyphs">Point of Max Cd: 8,635.7</text></svg>
</body></html>
